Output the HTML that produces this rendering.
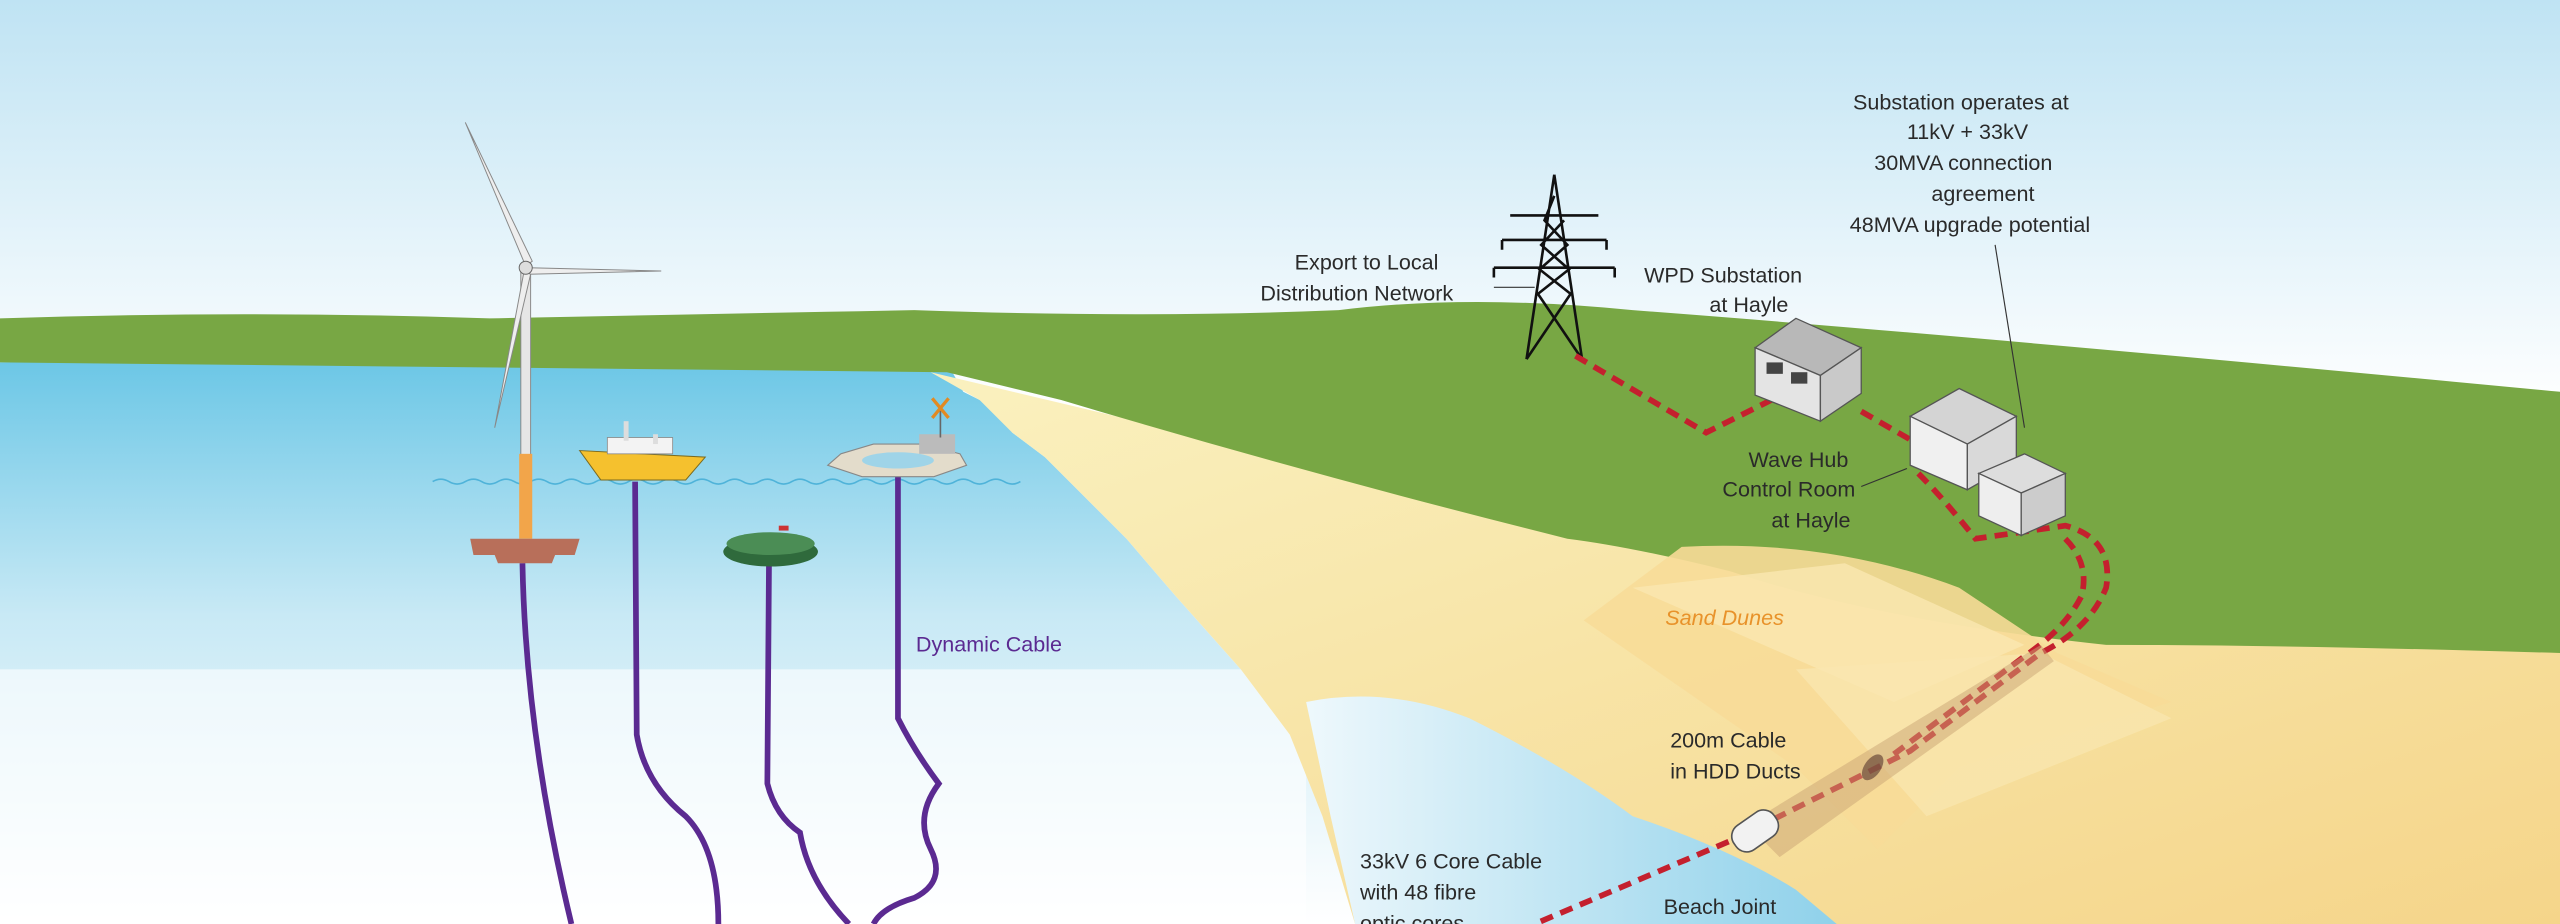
<!DOCTYPE html>
<html><head><meta charset="utf-8"><style>
html,body{margin:0;padding:0;width:2560px;height:924px;overflow:hidden;background:#fff}
svg{display:block}
text{font-family:"Liberation Sans",sans-serif;font-size:13.2px;fill:#2a2a2a}
</style></head><body>
<svg width="2560" height="924" viewBox="0 0 1568 566" preserveAspectRatio="none">
<defs>
<linearGradient id="sky" x1="0" y1="0" x2="0" y2="1"><stop offset="0" stop-color="#bfe3f3"/><stop offset="1" stop-color="#ffffff"/></linearGradient>
<linearGradient id="sea" x1="0" y1="0" x2="0" y2="1"><stop offset="0" stop-color="#6cc7e6"/><stop offset="0.45" stop-color="#c8e9f5"/><stop offset="1" stop-color="#ffffff"/></linearGradient>
<linearGradient id="sand" x1="0" y1="0" x2="1" y2="1"><stop offset="0" stop-color="#faf1bf"/><stop offset="1" stop-color="#f5d58a"/></linearGradient>
<linearGradient id="bay" x1="0" y1="0" x2="1" y2="0"><stop offset="0" stop-color="#eef8fc"/><stop offset="1" stop-color="#8fd1ea"/></linearGradient>
</defs>
<rect width="1568" height="566" fill="#fff"/>
<rect width="1568" height="250" fill="url(#sky)"/>
<!-- sea -->
<path d="M0 222 L580 222 L590 240 L610 250 L620 265 L640 280 L660 300 L690 330 L720 365 L760 410 L790 450 L810 500 L830 566 L0 566 Z" fill="url(#sea)"/>
<rect x="0" y="410" width="800" height="156" fill="#fff" opacity="0.6"/>
<!-- sand -->
<path d="M570 228 L1000 330 L1568 380 L1568 566 L830 566 L810 500 L790 450 L760 410 L720 365 L690 330 L660 300 L640 280 L620 265 L600 245 Z" fill="url(#sand)"/>
<!-- bay water -->
<path d="M800 430 Q850 420 900 440 Q960 470 1000 500 Q1060 520 1100 545 L1125 566 L830 566 L815 500 Z" fill="url(#bay)"/>
<!-- green -->
<path d="M0 195 Q150 190 300 195 Q450 192 560 190 Q700 195 820 190 Q900 180 1000 190 Q1200 205 1568 240 L1568 400 Q1400 395 1290 395 Q1150 380 1060 350 Q1000 335 960 330 Q800 290 650 245 L580 228 L0 222 Z" fill="#78a744"/>
<!-- dunes -->
<path d="M970 380 L1030 335 Q1120 330 1200 360 L1260 400 L1330 430 L1200 470 L1150 520 L1100 470 Z" fill="#f7dc98" opacity="0.9"/>
<path d="M1000 360 L1130 345 L1240 395 L1160 430 Z" fill="#fae7b0" opacity="0.8"/>
<path d="M1100 410 L1250 400 L1330 440 L1180 500 Z" fill="#fae7b0" opacity="0.7"/>
<text x="1020" y="383" style="fill:#e8922a;font-style:italic">Sand Dunes</text>
<!-- sea ripples -->
<g stroke="#4fb3d9" stroke-width="1" fill="none"><path d="M265 295 q5 -3 10 0 t10 0 t10 0 t10 0 t10 0 t10 0 t10 0 t10 0 t10 0 t10 0 t10 0 t10 0 t10 0 t10 0 t10 0 t10 0 t10 0 t10 0 t10 0 t10 0 t10 0 t10 0 t10 0 t10 0 t10 0 t10 0 t10 0 t10 0 t10 0 t10 0 t10 0 t10 0 t10 0 t10 0 t10 0 t10 0"/></g>
<!-- purple cables -->
<g stroke="#5b2a91" stroke-width="3.5" fill="none">
<path d="M320 345 Q322 450 350 566"/>
<path d="M389 295 L390 450 Q395 480 420 500 Q440 520 440 566"/>
<path d="M471 345 L470 480 Q475 500 490 510 Q495 540 520 566"/>
<path d="M550 290 L550 440 Q560 460 575 480 Q560 500 570 520 Q580 540 560 550 Q540 556 535 566"/>
</g>
<text x="561" y="399" style="fill:#5b2a91">Dynamic Cable</text>
<!-- turbine -->
<rect x="319" y="165" width="6" height="115" fill="#e6e6e6" stroke="#888" stroke-width="0.6"/>
<rect x="318" y="278" width="8" height="52" fill="#f2a54a"/>
<path d="M288 330 L355 330 L352 340 L340 340 L338 345 L305 345 L303 340 L290 340 Z" fill="#b86f5a"/>
<path d="M322 163 L285 75 L326 160 Z" fill="#eee" stroke="#888" stroke-width="0.6"/>
<path d="M324 164 L405 166 L324 168 Z" fill="#eee" stroke="#888" stroke-width="0.6"/>
<path d="M321 166 L303 262 L325 168 Z" fill="#eee" stroke="#888" stroke-width="0.6"/>
<circle cx="322" cy="164" r="4" fill="#ddd" stroke="#666" stroke-width="0.6"/>
<!-- yellow boat -->
<path d="M355 276 L432 280 L420 294 L368 294 Z" fill="#f5c12e" stroke="#7a6a20" stroke-width="0.6"/>
<rect x="372" y="268" width="40" height="10" fill="#f3f3f3" stroke="#888" stroke-width="0.5"/>
<rect x="382" y="258" width="3" height="12" fill="#ddd"/><rect x="400" y="266" width="3" height="6" fill="#ddd"/>
<!-- green buoy -->
<ellipse cx="472" cy="338" rx="29" ry="9" fill="#2f6a3c"/>
<ellipse cx="472" cy="333" rx="27" ry="7" fill="#4b8d55"/>
<rect x="477" y="322" width="6" height="3" fill="#c33"/>
<!-- octagon platform -->
<path d="M515 278 L535 272 L565 272 L588 278 L592 285 L572 292 L528 292 L507 285 Z" fill="#e3dccb" stroke="#888" stroke-width="0.7"/>
<ellipse cx="550" cy="282" rx="22" ry="5" fill="#9fd4e8"/>
<rect x="563" y="266" width="22" height="12" fill="#bbb"/>
<line x1="576" y1="250" x2="576" y2="268" stroke="#666"/>
<path d="M571 244 L581 256 M581 244 L571 256" stroke="#e28a22" stroke-width="2"/>
<!-- pylon -->
<g stroke="#111" stroke-width="1.6" fill="none">
<path d="M952 107 L935 220 M952 107 L969 220 M935 220 L962 180 L943 165 L960 150 L946 135 L952 120 M969 220 L942 180 L961 165 L944 150 L958 135"/>
<path d="M920 147 L984 147 M915 164 L989 164 M925 132 L979 132"/>
<path d="M920 147 L920 153 M984 147 L984 153 M915 164 L915 170 M989 164 L989 170"/>
</g>
<!-- red dashed cable -->
<g stroke="#c4202e" stroke-width="3.5" fill="none" stroke-dasharray="8,5">
<path d="M965 218 L1045 265 L1085 245"/>
<path d="M1140 252 L1180 275 M1175 290 Q1190 305 1210 330 L1265 322 Q1295 330 1290 360 Q1280 385 1250 400 L1170 460 L1060 515 L940 566"/>
<path d="M1265 330 Q1280 345 1275 365 Q1265 385 1240 402 L1160 462"/>
</g>
<!-- HDD duct -->
<path d="M1070 505 L1250 395 L1258 405 L1090 525 Z" fill="#c9a474" opacity="0.5"/>
<ellipse cx="1147" cy="470" rx="5" ry="9" transform="rotate(35 1147 470)" fill="#6b4a3a" opacity="0.7"/>
<rect x="1060" y="500" width="30" height="18" rx="8" transform="rotate(-35 1075 509)" fill="#f2f2f2" stroke="#555"/>
<!-- buildings -->
<g stroke="#555" stroke-width="0.8">
<path d="M1075 213 L1100 195 L1140 213 L1115 230 Z" fill="#b8b8b8"/>
<path d="M1075 213 L1115 230 L1115 258 L1075 242 Z" fill="#e4e4e4"/>
<path d="M1115 230 L1140 213 L1140 241 L1115 258 Z" fill="#c9c9c9"/>
<path d="M1170 255 L1200 238 L1235 255 L1205 272 Z" fill="#d4d4d4"/>
<path d="M1170 255 L1205 272 L1205 300 L1170 285 Z" fill="#f0f0f0"/>
<path d="M1205 272 L1235 255 L1235 283 L1205 300 Z" fill="#d9d9d9"/>
<path d="M1212 290 L1240 278 L1265 290 L1238 302 Z" fill="#ddd"/>
<path d="M1212 290 L1238 302 L1238 328 L1212 316 Z" fill="#eee"/>
<path d="M1238 302 L1265 290 L1265 316 L1238 328 Z" fill="#ccc"/>
</g>
<g fill="#444"><rect x="1082" y="222" width="10" height="7"/><rect x="1097" y="228" width="10" height="7"/></g>
<!-- labels -->
<g>
<text x="793" y="165">Export to Local</text><text x="772" y="184">Distribution Network</text>
<text x="1007" y="173">WPD Substation</text><text x="1047" y="191">at Hayle</text>
<text x="1135" y="67">Substation operates at</text><text x="1168" y="85">11kV + 33kV</text>
<text x="1148" y="104">30MVA connection</text><text x="1183" y="123">agreement</text>
<text x="1133" y="142">48MVA upgrade potential</text>
<text x="1071" y="286">Wave Hub</text><text x="1055" y="304">Control Room</text><text x="1085" y="323">at Hayle</text>
<text x="1023" y="458">200m Cable</text><text x="1023" y="477">in HDD Ducts</text>
<text x="833" y="532">33kV 6 Core Cable</text><text x="833" y="551">with 48 fibre</text><text x="833" y="570">optic cores</text>
<text x="1019" y="560">Beach Joint</text>
</g>
<g stroke="#333" stroke-width="0.7"><line x1="915" y1="176" x2="940" y2="176"/><line x1="1222" y1="150" x2="1240" y2="262"/><line x1="1140" y1="298" x2="1168" y2="287"/></g>
</svg>
</body></html>
